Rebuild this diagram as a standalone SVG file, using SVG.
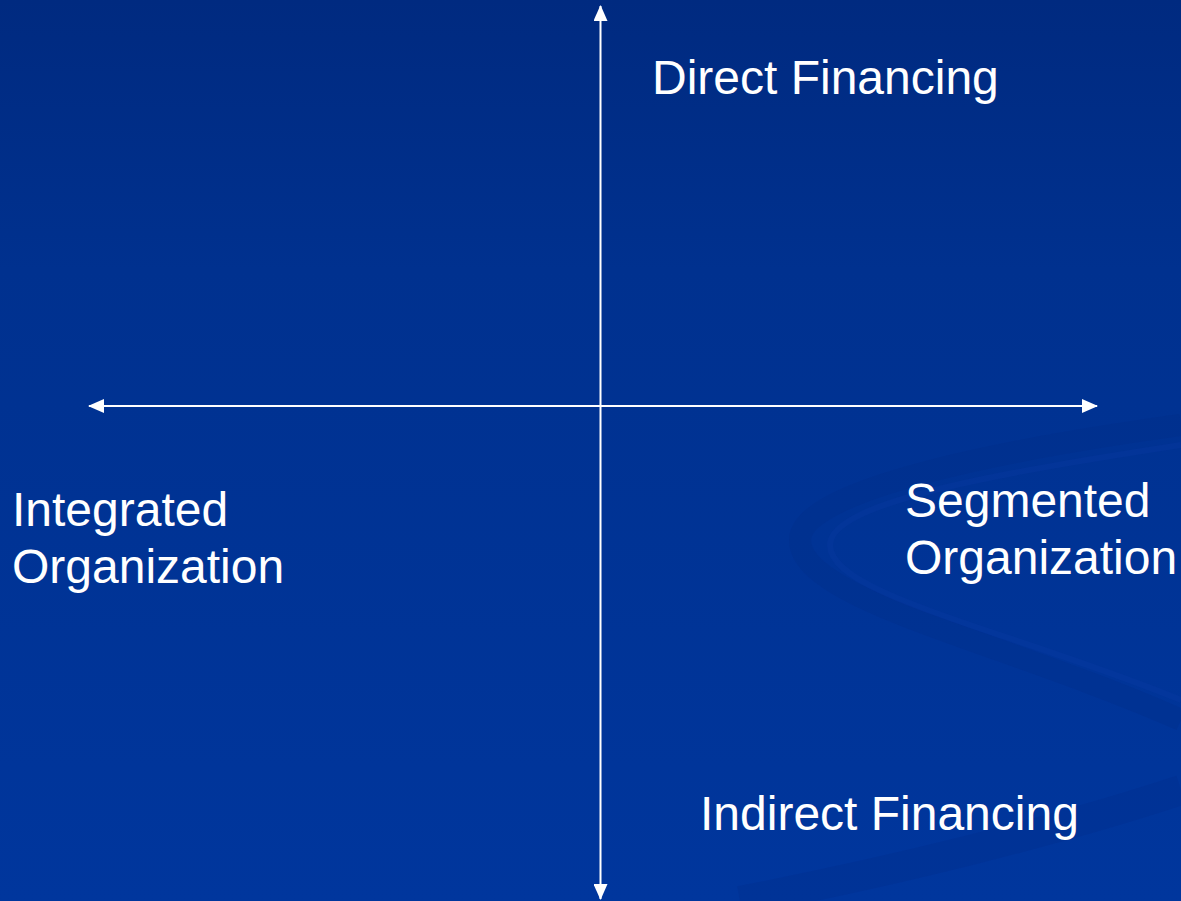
<svg xmlns="http://www.w3.org/2000/svg" width="1181" height="901" viewBox="0 0 1181 901">
<style>
.lbl{font-family:"Liberation Sans",Arial,sans-serif;font-size:48px;fill:#ffffff}
.axis{stroke:#ffffff;stroke-width:2;fill:none}
</style>
<defs>
<linearGradient id="bg" x1="0" y1="0" x2="0" y2="1">
<stop offset="0" stop-color="#002a80"/>
<stop offset="0.3" stop-color="#00318f"/>
<stop offset="1" stop-color="#00369d"/>
</linearGradient>
<marker id="ah" viewBox="0 0 16 14" refX="15" refY="7" markerWidth="16" markerHeight="14" markerUnits="userSpaceOnUse" orient="auto-start-reverse">
<path d="M0,0 L16,7 L0,14 Z" fill="#ffffff"/>
</marker>
</defs>
<rect width="1181" height="901" fill="url(#bg)"/>
<g id="swirl" fill="none">
<path d="M1181,425 C1000,450 800,490 800,540 C800,600 1000,640 1181,720" stroke="#002a85" stroke-width="22" opacity="0.25"/>
<path d="M1181,445 C1020,470 830,500 830,545 C830,595 1010,630 1181,700" stroke="#0a3ca8" stroke-width="6" opacity="0.25"/>
<path d="M740,901 C900,870 1060,830 1181,790" stroke="#002a85" stroke-width="30" opacity="0.22"/>
</g>
<g id="connectors">
<line class="axis" x1="600.5" y1="899" x2="600.5" y2="6" marker-start="url(#ah)" marker-end="url(#ah)"/>
<line class="axis" x1="89" y1="406" x2="1097" y2="406" marker-start="url(#ah)" marker-end="url(#ah)"/>
</g>
<g id="direct"><text class="lbl" x="652" y="94">Direct Financing</text></g>
<g id="indirect"><text class="lbl" x="700" y="830">Indirect Financing</text></g>
<g id="integrated"><text class="lbl" x="12" y="526">Integrated</text><text class="lbl" x="12" y="583">Organization</text></g>
<g id="segmented"><text class="lbl" x="905" y="517">Segmented</text><text class="lbl" x="905" y="574">Organization</text></g>
</svg>
